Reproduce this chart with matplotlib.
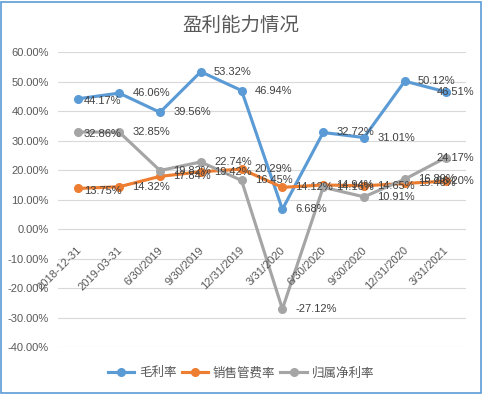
import matplotlib
matplotlib.use("Agg")
import matplotlib.pyplot as plt
from matplotlib.patches import Rectangle
from matplotlib.transforms import blended_transform_factory

plt.rcParams['font.family'] = ['Noto Sans CJK SC', 'DejaVu Sans']

# ------------------------------------------------------
# data
# ------------------------------------------------------
periods = ["2018-12-31", "2019-03-31", "6/30/2019", "9/30/2019", "12/31/2019",
           "3/31/2020", "6/30/2020", "9/30/2020", "12/31/2020", "3/31/2021"]
gross_margin = [44.17, 46.06, 39.56, 53.32, 46.94, 6.68, 32.72, 31.01, 50.12, 46.51]
expense_rate = [13.75, 14.32, 17.84, 19.42, 20.29, 14.12, 14.94, 14.65, 15.46, 16.20]
net_margin = [32.86, 32.85, 19.82, 22.74, 16.45, -27.12, 14.16, 10.91, 16.89, 24.17]
series_names = ["毛利率", "销售管费率", "归属净利率"]
y_ticks = [-40, -30, -20, -10, 0, 10, 20, 30, 40, 50, 60]

colors = ["#5B9BD5", "#ED7D31", "#A5A5A5"]

fig = plt.figure(figsize=(4.85, 3.95), dpi=100)
ax = fig.add_axes([0.1196, 0.1215, 0.8412, 0.7468])

x = list(range(len(periods)))
all_series = [gross_margin, expense_rate, net_margin]

for vals, name, c in zip(all_series, series_names, colors):
    ax.plot(x, vals, color=c, lw=2.25, marker="o", markersize=5.5,
            label=name, solid_joinstyle="round", zorder=3)

# data labels to the right of each point; the last ones are pushed back
# inside the chart area like Excel does
edge = blended_transform_factory(fig.transFigure, ax.transData)
lbl = dict(fontsize=8, color="#404040", family="Liberation Sans", zorder=5)
for vals in all_series:
    for i, v in zip(x, vals):
        if i == len(x) - 1:
            ax.text(474 / 485, v, f"{v:.2f}%", transform=edge,
                    ha="right", va="center", **lbl)
            continue
        dx = 4 if i == 0 else 9.5
        dy = -1.5 if i == 0 else 0
        ax.annotate(f"{v:.2f}%", xy=(i, v), xytext=(dx, dy),
                    textcoords="offset points", ha="left", va="center", **lbl)

ax.set_xlim(-0.5, len(periods) - 0.5)
ax.set_ylim(-40, 60)
ax.set_yticks(y_ticks)
ax.set_yticklabels([f"{t:.2f}%" for t in y_ticks], fontsize=8,
                   color="#595959", family="Liberation Sans")
ax.tick_params(axis="y", length=0, pad=6.5)
ax.set_xticks([])
ax.grid(axis="y", color="#D9D9D9", lw=0.8)
ax.set_axisbelow(True)
for s in ax.spines.values():
    s.set_visible(False)

# category labels sit on the 0% line
for i, p in zip(x, periods):
    ax.annotate(p, xy=(i, 0), xytext=(3.5, -11.5), textcoords="offset points",
                rotation=45, ha="right", va="top", fontsize=8,
                color="#595959", family="Liberation Sans")

fig.text(0.497, 0.936, "盈利能力情况", ha="center", va="center",
         fontsize=14, color="#595959")

ax.legend(loc="center", bbox_to_anchor=(0.497, 0.056),
          bbox_transform=fig.transFigure, ncol=3, frameon=False,
          fontsize=9, handlelength=2.1, handletextpad=0.4,
          columnspacing=0.4, labelcolor="#595959", numpoints=1)

fig.patches.append(Rectangle((0.003, 0.005), 0.9887, 0.99,
                             transform=fig.transFigure, fill=False,
                             edgecolor="#5B9BD5", lw=1.2))

fig.savefig("out.png", dpi=100)
